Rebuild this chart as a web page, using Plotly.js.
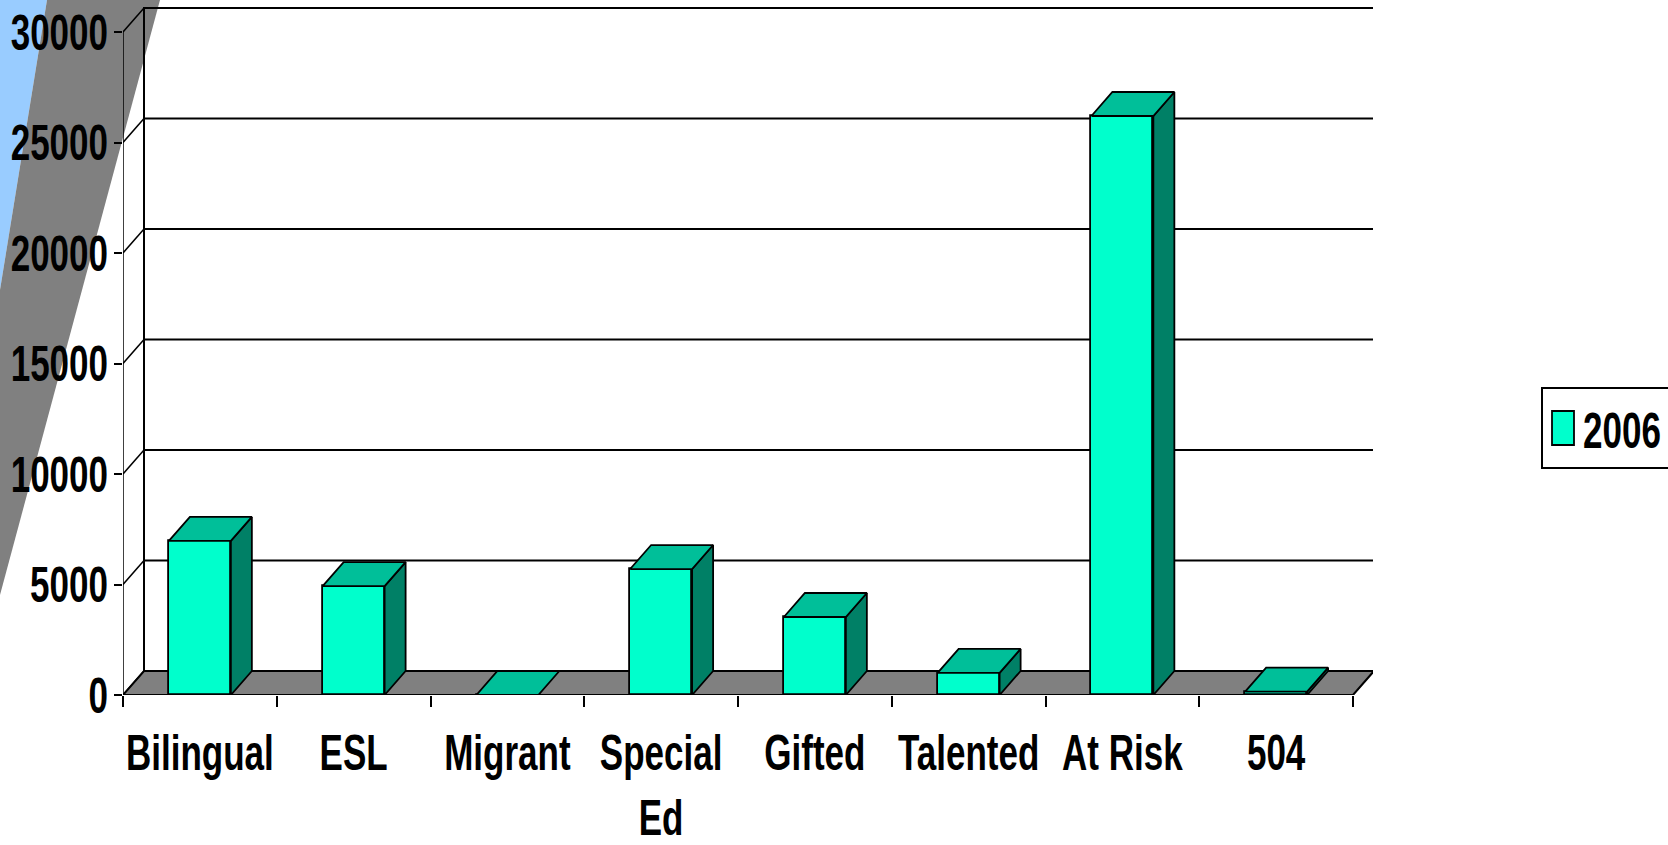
<!DOCTYPE html>
<html>
<head>
<meta charset="utf-8">
<script src="https://cdn.plot.ly/plotly-3.0.1.min.js"></script>
<style>html,body{margin:0;padding:0;background:#fff;}#chart{width:1668px;height:845px;}</style>
</head>
<body>
<div id="chart"></div>
<script>
// ---- data ----
var categories = ["Bilingual", "ESL", "Migrant", "Special<br>Ed", "Gifted", "Talented", "At Risk", "504"];
var values2006 = [6970, 4930, 0, 5700, 3530, 1000, 26200, 150];
var seriesName = "2006";
var yTickVals = [0, 5000, 10000, 15000, 20000, 25000, 30000];

// ---- geometry (pseudo-3D) ----
var W = 1668, H = 845;
var mL = 123, mR = 295, mT = 7, mB = 150;
var plotW = W - mL - mR, plotH = H - mT - mB;
var slotPx = 153.75, pxPer1000 = 22.1;
var xMax = plotW / slotPx;
var yMax = plotH / pxPer1000 * 1000;
var dX = 21 / slotPx;            // depth offset in x units
var dY = 24 / pxPer1000 * 1000;  // depth offset in y units
var barW = 0.403;
var n = categories.length;
var yTop = yTickVals[yTickVals.length - 1];
var textSize = 50, squeeze = 0.70;

var fnt = "Liberation Sans, Arial, sans-serif";

function px2paper(X, Y) { return [(X - mL) / plotW, (mT + plotH - Y) / plotH]; }
function paperPath(pts) {
  return "M" + pts.map(function (p) { var q = px2paper(p[0], p[1]); return q[0] + "," + q[1]; }).join(" L") + " Z";
}

var centers = categories.map(function (c, i) { return i + 0.5; });

// top and side faces
var topX = [], topY = [], sideX = [], sideY = [];
values2006.forEach(function (v, i) {
  var x0 = centers[i] - barW / 2, x1 = centers[i] + barW / 2;
  topX.push(x0, x1, x1 + dX, x0 + dX, x0, null);
  topY.push(v, v, v + dY, v + dY, v, null);
  if (v > 0) {
    sideX.push(x1, x1 + dX, x1 + dX, x1, x1, null);
    sideY.push(0, dY, v + dY, v, 0, null);
  }
});

var traces = [
  {
    type: "bar", x: centers, y: values2006, width: barW, name: seriesName,
    marker: { color: "#00FFCC", line: { color: "#000", width: 1.8 } },
    hoverinfo: "y", showlegend: true
  },
  {
    type: "scatter", mode: "lines", x: sideX, y: sideY, fill: "toself",
    fillcolor: "#008066", line: { color: "#000", width: 1.8 }, showlegend: false, hoverinfo: "skip"
  },
  {
    type: "scatter", mode: "lines", x: topX, y: topY, fill: "toself",
    fillcolor: "#00BF99", line: { color: "#000", width: 1.8 }, showlegend: false, hoverinfo: "skip"
  }
];

var shapes = [];
// slide decoration
shapes.push({ type: "path", xref: "paper", yref: "paper", layer: "below",
  path: paperPath([[0, 0], [47, 0], [0, 290]]), fillcolor: "#99CCFF", line: { width: 0 } });
shapes.push({ type: "path", xref: "paper", yref: "paper", layer: "below",
  path: paperPath([[47, 0], [160, 0], [0, 595], [0, 290]]), fillcolor: "#808080", line: { width: 0 } });
// back wall outline
shapes.push({ type: "rect", xref: "x", yref: "y", layer: "below",
  x0: dX, x1: n + dX, y0: dY, y1: yTop + dY, line: { color: "#000", width: 2 }, fillcolor: "rgba(0,0,0,0)" });
// back gridlines and side-wall diagonals
yTickVals.forEach(function (v) {
  if (v > 0 && v < yTop) {
    shapes.push({ type: "line", xref: "x", yref: "y", layer: "below",
      x0: dX, x1: n + dX, y0: v + dY, y1: v + dY, line: { color: "#000", width: 2 } });
  }
  shapes.push({ type: "line", xref: "x", yref: "y", layer: "below",
    x0: 0, x1: dX, y0: v, y1: v + dY, line: { color: "#000", width: 1.5 } });
});
// front vertical axis line
shapes.push({ type: "line", xref: "x", yref: "y", layer: "below",
  x0: 0, x1: 0, y0: 0, y1: yTop, line: { color: "#000", width: 1.5 } });
// floor
shapes.push({ type: "path", xref: "x", yref: "y", layer: "below",
  path: "M0,0 L" + n + ",0 L" + (n + dX) + "," + dY + " L" + dX + "," + dY + " Z",
  fillcolor: "#808080", line: { color: "#000", width: 2 } });

var tf = { family: fnt, size: textSize, weight: "bold", color: "#000" };

var layout = {
  width: W, height: H,
  margin: { l: mL, r: mR, t: mT, b: mB, autoexpand: false },
  paper_bgcolor: "#fff", plot_bgcolor: "rgba(0,0,0,0)",
  font: tf,
  showlegend: true,
  bargap: 0,
  xaxis: {
    range: [0, xMax], tickmode: "array", tickvals: centers, ticktext: categories,
    tickangle: 0, ticks: "", ticklabelstandoff: 24,
    showgrid: false, zeroline: false, showline: false, fixedrange: true,
    tickfont: tf,
    minor: { tickmode: "linear", tick0: 0, dtick: 1, ticks: "outside", ticklen: 11, tickwidth: 1.5, tickcolor: "#000", showgrid: false }
  },
  yaxis: {
    range: [0, yMax], tickmode: "array", tickvals: yTickVals, ticktext: yTickVals.map(String),
    ticks: "outside", ticklen: 8, tickwidth: 1.5, tickcolor: "#000", ticklabelstandoff: -4,
    showgrid: false, zeroline: false, showline: false, fixedrange: true,
    tickfont: tf
  },
  legend: {
    x: (1541 - mL) / plotW, xanchor: "left", y: (mT + plotH - 428) / plotH, yanchor: "middle",
    bordercolor: "#000", borderwidth: 2, bgcolor: "#fff",
    font: tf
  },
  shapes: shapes
};

// narrow the bold text horizontally (the original uses a condensed bold face)
function squeezeText() {
  var nodes = document.querySelectorAll("#chart .xtick text, #chart .ytick text, #chart .legendtext");
  nodes.forEach(function (t) {
    var lines = t.querySelectorAll("tspan.line");
    var targets = lines.length ? Array.prototype.slice.call(lines) : [t];
    targets.forEach(function (el) {
      var len = el.getComputedTextLength();
      if (len > 0) {
        el.setAttribute("textLength", (len * squeeze).toFixed(1));
        el.setAttribute("lengthAdjust", "spacingAndGlyphs");
      }
    });
  });
  // taller legend key, like the original
  document.querySelectorAll("#chart .legendpoints path").forEach(function (p) {
    p.setAttribute("d", "M11,17H-11V-17H11Z");
  });
}

Plotly.newPlot("chart", traces, layout, { displayModeBar: false }).then(squeezeText);
</script>
</body>
</html>
